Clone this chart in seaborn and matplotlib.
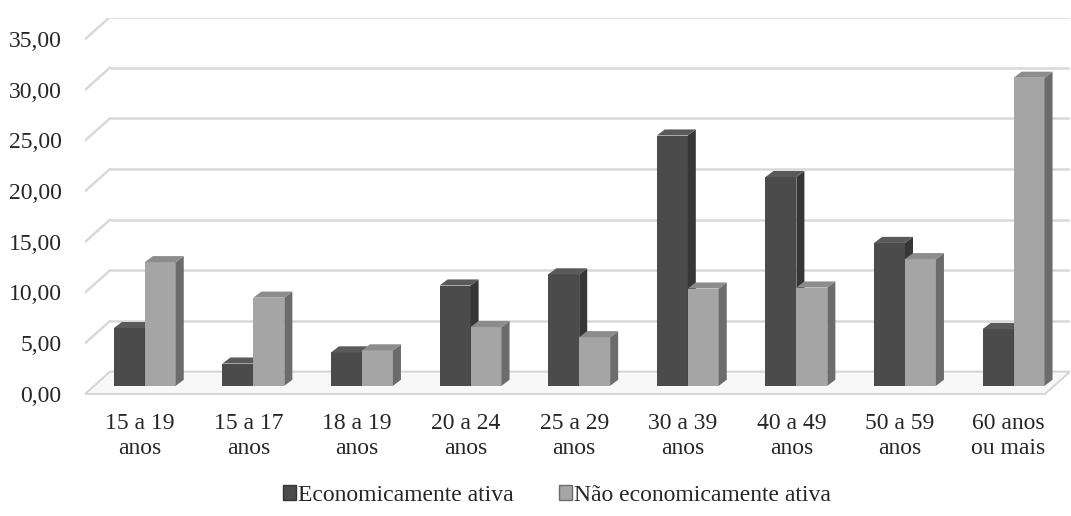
import numpy as np
import pandas as pd
import seaborn as sns
import matplotlib.pyplot as plt
from matplotlib.patches import Polygon, Patch
from matplotlib.transforms import ScaledTranslation

# dados
faixas = ["15 a 19\nanos", "15 a 17\nanos", "18 a 19\nanos", "20 a 24\nanos", "25 a 29\nanos",
          "30 a 39\nanos", "40 a 49\nanos", "50 a 59\nanos", "60 anos\nou mais"]
ativa = [5.7, 2.2, 3.3, 9.9, 11.0, 24.7, 20.6, 14.1, 5.6]
nao_ativa = [12.2, 8.7, 3.5, 5.8, 4.8, 9.6, 9.7, 12.5, 30.4]
series = ["Economicamente ativa", "Não economicamente ativa"]
yticks = [0, 5, 10, 15, 20, 25, 30, 35]

sns.set_theme(style="white")
plt.rcParams["font.family"] = ["Liberation Serif", "DejaVu Serif"]

df = pd.DataFrame({
    "faixa": faixas * 2,
    "valor": ativa + nao_ativa,
    "grupo": [series[0]] * len(faixas) + [series[1]] * len(faixas),
})

front = ["#4b4b4b", "#a5a5a5"]
side = ["#363636", "#6c6c6c"]
top = ["#5a5a5a", "#8c8c8c"]

fig = plt.figure(figsize=(10.71, 5.16), dpi=100)
ax = fig.add_axes([0.0794, 0.2326, 0.9197, 0.7326])

sns.barplot(data=df, x="faixa", y="valor", hue="grupo", palette=front, width=0.57,
            saturation=1, ax=ax, legend=False)

xmin, xmax = -0.55, 8.52
ax.set_xlim(xmin, xmax)
ax.set_ylim(-1.0, 36.3)

# efeito 3D nas barras
dx, dy = 0.074, 0.6
for i, cont in enumerate(ax.containers):
    z = 3 + 2 * i
    for bar in cont:
        bar.set_zorder(z)
        bar.set_edgecolor("none")
        x0, w, h = bar.get_x(), bar.get_width(), bar.get_height()
        ax.add_patch(Polygon([(x0 + w, 0), (x0 + w + dx, dy), (x0 + w + dx, h + dy), (x0 + w, h)],
                             closed=True, fc=side[i], ec="none", zorder=z + 0.5))
        ax.add_patch(Polygon([(x0, h), (x0 + w, h), (x0 + w + dx, h + dy), (x0 + dx, h + dy)],
                             closed=True, fc=top[i], ec="none", zorder=z + 0.5))

# grade em perspectiva
gdx, gdy = 0.23, 1.4
for v in yticks[1:]:
    ax.plot([xmin + gdx, xmax], [v + gdy, v + gdy], color="#d9d9d9", lw=1.8, zorder=1,
            solid_capstyle="butt")
    ax.plot([xmin, xmin + gdx], [v - 0.8, v + gdy], color="#d9d9d9", lw=1.8, zorder=1)

# piso
ax.add_patch(Polygon([(xmin, -0.8), (xmax - gdx, -0.8), (xmax, gdy), (xmin + gdx, gdy)],
                     closed=True, fc="#f8f8f8", ec="#d4d4d4", lw=1.4, zorder=1.5))

for s in ax.spines.values():
    s.set_visible(False)
ax.set_yticks(yticks)
ax.set_yticklabels([f"{v:.2f}".replace(".", ",") for v in yticks])
ax.tick_params(axis="y", length=0, pad=17, labelsize=17)
ax.tick_params(axis="x", length=0, pad=12, labelsize=17)
for lab in ax.get_yticklabels():
    lab.set_transform(lab.get_transform() + ScaledTranslation(0, -0.08, fig.dpi_scale_trans))
for lab in ax.get_xticklabels():
    lab.set_linespacing(1.25)
    lab.set_transform(lab.get_transform() + ScaledTranslation(-0.05, 0, fig.dpi_scale_trans))
ax.set_xlabel("")
ax.set_ylabel("")

handles = [Patch(fc=front[k], ec=side[k], lw=1) for k in range(2)]
fig.legend(handles, series, loc="center", bbox_to_anchor=(0.52, 0.04), ncol=2, frameon=False,
           fontsize=17, handlelength=0.55, handleheight=0.55, handletextpad=0.1, columnspacing=1.9)

fig.savefig("out.png", dpi=100)
